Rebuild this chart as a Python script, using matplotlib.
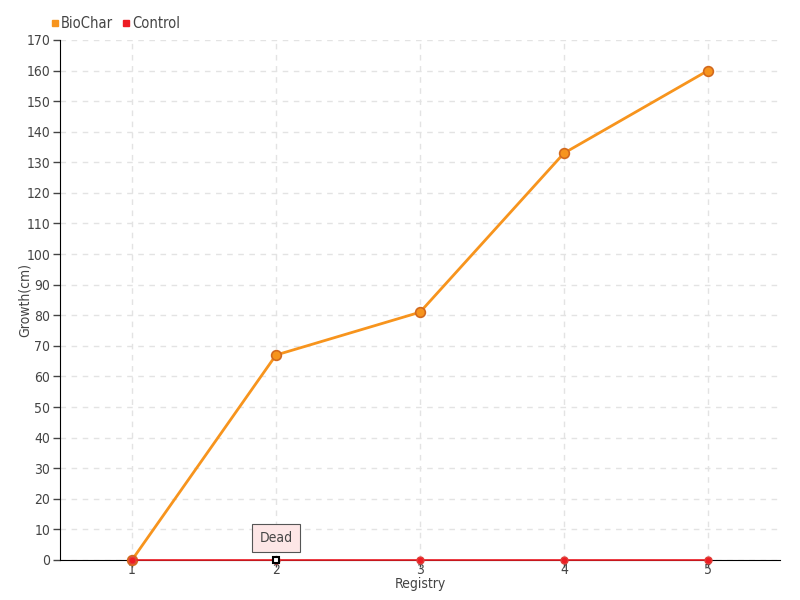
""" Growth per registry: BioChar vs Control """
import matplotlib
matplotlib.use('Agg')
import matplotlib.pyplot as plt
from matplotlib.lines import Line2D

plt.rcParams['font.family'] = ['DejaVu Sans']
plt.rcParams['font.stretch'] = 'condensed'

registry = [1, 2, 3, 4, 5]
biochar = [0, 67, 81, 133, 160]
control = [0, 0, 0, 0, 0]
y_ticks = list(range(0, 171, 10))

text_color = '#444444'
orange = '#F7941D'
red = '#ED1C24'

fig = plt.figure(figsize=(8, 6), dpi=100)
ax = fig.add_axes([0.075, 0.0667, 0.9, 0.8667])

ax.plot(registry, biochar, color=orange, linewidth=2, marker='o', markersize=7,
        markerfacecolor=orange, markeredgecolor='#D2691E', markeredgewidth=1.2,
        zorder=3, clip_on=False)
ax.plot(registry, control, color=red, linewidth=1.2, marker='o', markersize=5,
        markerfacecolor=red, markeredgecolor='#E0403A', zorder=4, clip_on=False)
# highlighted point
ax.plot(registry[1], control[1], marker='s', markersize=4.5, markerfacecolor='white',
        markeredgecolor='black', markeredgewidth=1.5, zorder=5, clip_on=False)

ax.annotate('Dead', xy=(registry[1], control[1]), xytext=(0, 16), textcoords='offset points',
            ha='center', va='center', fontsize=10, color=text_color,
            bbox=dict(boxstyle='square,pad=0.5', fc='#FDE6E6', ec='#555555', lw=0.8),
            zorder=6)

ax.set_xlim(0.5, 5.5)
ax.set_ylim(0, 170)
ax.set_xticks(registry)
ax.set_yticks(y_ticks)
ax.tick_params(axis='both', colors=text_color, labelsize=10, length=5, width=1)
ax.tick_params(axis='x', pad=-3)
ax.tick_params(axis='y', pad=2)
ax.grid(True, color='#E3E3E3', linestyle=(0, (4, 4)), linewidth=1)
ax.set_axisbelow(True)

for side in ['top', 'right']:
    ax.spines[side].set_visible(False)
ax.spines['left'].set_color('black')
ax.spines['bottom'].set_color('black')

ax.set_xlabel('Registry', fontsize=10, color=text_color)
ax.xaxis.set_label_coords(0.5, -0.033)
ax.set_ylabel('Growth(cm)', fontsize=10, color=text_color)
ax.yaxis.set_label_coords(-0.039, 0.5)

handles = [Line2D([], [], linestyle='none', marker='s', markersize=4, color=orange),
           Line2D([], [], linestyle='none', marker='s', markersize=4, color=red)]
fig.legend(handles, ['BioChar', 'Control'], loc='upper left', bbox_to_anchor=(0.045, 0.995),
           ncol=2, frameon=False, fontsize=10.5, handletextpad=0.0, columnspacing=0.5,
           handlelength=0.8, labelcolor=text_color)

fig.savefig('out.png', dpi=100)
